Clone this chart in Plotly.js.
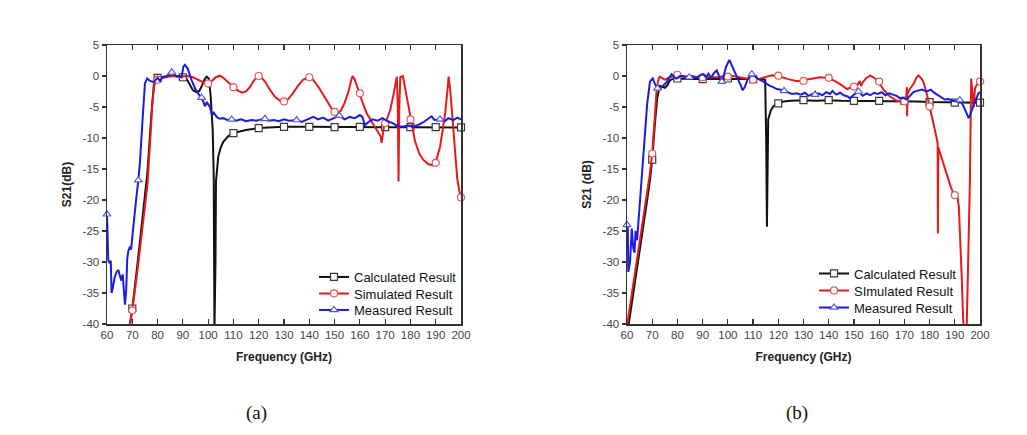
<!DOCTYPE html>
<html><head><meta charset="utf-8">
<script src="https://cdn.plot.ly/plotly-3.0.1.min.js"></script>
<style>html,body{margin:0;padding:0;background:#fff}#chart{width:1027px;height:435px}</style>
</head><body><div id="chart"></div>
<script>
// ---------- axis ticks ----------
const xTickVals = [60,70,80,90,100,110,120,130,140,150,160,170,180,190,200];
const xTickText = ['60','70','80','90','100','110','120','130','140','150','160','170','180','190','200'];
const yTickVals = [-40,-35,-30,-25,-20,-15,-10,-5,0,5];
const yTickText = ['-40','-35','-30','-25','-20','-15','-10','-5','0','5'];

// ---------- (a) Calculated ----------
const aCalcFreq = [69.0,70,72,74,76,77.5,78.5,80,82,84,86,88,90,91.5,92.8,94,95.4,96.5,97.5,98.5,99.4,100.3,101,101.8,102.2,102.5,102.9,103.1,104,105,106,108,110,112.5,115,120,125,130,140,150,160,170,180,190,200];
const aCalcS21  = [-40.5,-37.5,-30.5,-23.5,-15.5,-6.5,-1.5,-0.3,-0.1,0,0.1,0,-0.2,-0.5,-1.5,-2.3,-2.6,-2.4,-1.6,-0.6,-0.1,-0.4,-3.3,-8.6,-16,-41,-30,-17,-13,-11.5,-10.6,-9.7,-9.2,-8.9,-8.7,-8.4,-8.3,-8.2,-8.2,-8.25,-8.2,-8.25,-8.25,-8.25,-8.3];
const aCalcMarkFreq = [70,80,90,110,120,130,140,150,160,170,180,190,200];
const aCalcMarkS21  = [-37.5,-0.3,-0.2,-9.2,-8.4,-8.2,-8.2,-8.25,-8.2,-8.25,-8.25,-8.25,-8.3];

// ---------- (a) Simulated ----------
const aSimFreq = [68.8,70,72,74,76,77,78,78.8,80,82,84,86,88,90,92,94,96.8,98.5,100,101.5,103,104.7,106,108,110,112,113.5,115,116.5,118,119.7,121,122.5,124.4,126.5,128.5,130,131.5,133.5,135.5,137.5,139.8,141.5,143.5,145.5,147.5,149.5,151,152.5,154,155.5,156.5,157.1,158,159.6,161,162.7,164.7,166.5,167.5,168.3,168.6,168.9,169.5,170.5,172,173.3,174.6,175,175.3,175.6,176,177,178.5,180,181.8,183.5,185,187,189,190.5,191.7,192.8,193.8,194.6,195.1,195.8,196.5,197.6,198.5,199.3,200];
const aSimS21  = [-40.5,-37.8,-31.5,-24.5,-17.5,-11,-4,-1.2,-0.6,-0.3,-0.2,0,-0.1,-0.1,0,-0.2,-0.8,-1.1,-1.2,-0.8,-0.2,0.05,-0.3,-1.1,-1.8,-2.4,-2.7,-2.5,-1.8,-0.8,0,-0.2,-0.9,-2.2,-3.4,-4,-4.1,-3.8,-2.8,-1.6,-0.6,-0.2,-0.6,-1.7,-3,-4.5,-5.7,-6,-5.6,-4.3,-2.5,-0.8,0,-0.6,-2.6,-4.2,-6.0,-7.3,-8.6,-9.2,-9.8,-10.8,-9.6,-8.2,-7.2,-5.5,-3,-0.1,-5,-17,-5,-0.2,0,-3.3,-7.0,-10.5,-12.5,-13.5,-14.2,-14.4,-13.2,-11.4,-8.6,-5.8,-2.5,-0.1,-2.5,-6.5,-12.5,-16.5,-18.5,-19.6];
const aSimMarkFreq = [70,80,100,110,120,130,140,150,160,170,180,190,200];
const aSimMarkS21  = [-37.8,-0.6,-1.2,-1.8,0,-4.1,-0.2,-5.8,-2.8,-7.6,-7.0,-14.0,-19.6];

// ---------- (a) Measured ----------
const aMeasFreq = [60,60.5,61,61.5,61.8,62.3,63,63.8,64.5,65,65.6,66.2,66.7,67.1,67.6,68,68.4,69.1,69.5,70.4,71.5,72.4,73,74,75,75.9,77,78.5,80,81,82,83.6,84.5,85.6,86.5,87.5,88.5,89.5,90.2,90.8,91.9,92.6,93.5,94.8,95.5,96.8,98.1,98.7,99.5,100.3,100.7,101.4,102.2,103.4,104.5,106,107.5,109.3,111,113,115,117,119,121,122.5,124,126,128,130,132,135,137,139,141.6,143.5,145.5,147.5,149.5,151.9,154,156,158,160,161,162,163.5,165,167,169,171,173,175,177,179,181,183,185,187,188.4,189.5,191.7,193.5,195,197,198.5,200];
const aMeasS21  = [-22.3,-29.7,-30.2,-29.8,-35,-34.2,-32.5,-31.6,-31.3,-32.2,-33,-32,-34.5,-36.9,-34.5,-29.5,-28.3,-27.5,-28,-23.8,-20,-16.8,-14.1,-7.5,-1.2,-0.4,-0.8,-1,-0.3,-0.8,-0.2,-0.1,0.4,0.7,0.3,-0.1,0,-0.2,1.5,1.8,1.2,0.2,-0.7,-2,-2.4,-3.3,-4.1,-4.9,-4.2,-4.7,-5,-6.1,-5.9,-6.6,-6.9,-6.8,-7.1,-7.0,-7.2,-7.0,-7.3,-7.1,-7.2,-7.0,-6.9,-7.2,-7.1,-7.3,-7.0,-7.2,-7.1,-7.4,-7.0,-6.6,-7.0,-6.7,-7.2,-6.8,-6.4,-7.0,-6.6,-6.8,-6.3,-6.6,-7.9,-7.4,-7.0,-7.2,-6.8,-7.3,-7.6,-8.1,-8.2,-8.0,-8.2,-7.9,-7.5,-6.9,-6.5,-7.1,-7.0,-7.3,-6.8,-7.1,-6.7,-7.0];
const aMeasMarkFreq = [60,72.4,85.6,97.4,109.3,122.5,135,151.9,191.7];
const aMeasMarkS21  = [-22.3,-16.8,0.6,-3.5,-7.0,-6.9,-7.1,-6.4,-7.0];

// ---------- (b) Calculated ----------
const bCalcFreq = [60.5,62,64,66,68,69.1,70,71,72,73,74,75,76,77,78,80,85,90,95,100,105,110,114,114.8,115.2,115.5,115.7,116,117,118,119.6,122,125,130,135,140,145,150,155,160,165,170,175,180,185,190,195,200];
const bCalcS21  = [-40.5,-36.5,-31.3,-26,-20,-16.8,-13.5,-8,-3.5,-1.6,-1.7,-1.9,-1.5,-0.7,-0.5,-0.4,-0.5,-0.5,-0.5,-0.4,-0.5,-0.5,-0.5,-0.6,-10,-24.3,-15,-7,-5.6,-4.9,-4.4,-4.1,-4.0,-3.9,-4.0,-3.9,-4.0,-4.0,-4.1,-4.0,-4.1,-4.0,-4.1,-4.2,-4.2,-4.3,-4.3,-4.3];
const bCalcMarkFreq = [70,80,90,100,110,120,130,140,150,160,170,180,190,200];
const bCalcMarkS21  = [-13.5,-0.4,-0.5,-0.4,-0.5,-4.4,-3.9,-3.9,-4.0,-4.0,-4.0,-4.2,-4.3,-4.3];

// ---------- (b) Simulated ----------
const bSimFreq = [60,62,64,66,68,69,70,71,71.8,72.5,73,75,77,79.7,82,85,88,90,93,96,98.3,100,102.2,105,108,110,112,115.4,117.5,119.4,121,124,127,129.3,131,133.5,136.5,139.5,142,144.5,147.3,149.8,151.5,152.3,152.8,153.5,155,156.5,158,159.7,161.7,164.3,166.5,168.3,170,170.8,171,171.1,171.2,172,173.6,174.8,175.6,176.8,177.6,178.9,179.9,181,182,182.9,183.2,183.3,183.45,185,187,188.5,189.8,190.9,191.6,192.3,192.8,193.3,193.6,194.7,195.3,196,196.5,197,197.5,198,199.4,200];
const bSimS21  = [-40.3,-35,-29.5,-24,-18.8,-16,-12.5,-6.5,-2,-0.5,-0.1,-0.6,-0.2,0.2,-0.1,0,-0.2,-0.2,-0.2,-0.2,0,-0.1,0,-0.2,-0.4,-0.6,-0.5,-0.1,0.1,0.05,-0.1,-0.5,-0.8,-0.8,-0.6,-0.4,-0.2,-0.3,-0.7,-1.3,-2.1,-1.7,-1.4,-0.8,-1.6,-1.0,-0.3,0.05,-0.3,-0.9,-2.2,-3.3,-3.9,-4.1,-4.1,-3.2,-1.8,-6.5,-3.0,-2.2,-1.3,-0.3,0.1,-0.4,-1.0,-2.9,-4.9,-6.8,-8.5,-10.2,-10.8,-25.4,-11.5,-13.5,-16,-18,-19.2,-19.2,-21,-27,-33,-39,-41,-41,-30,-16.8,-0.4,-3,-5,-2,-0.9,-0.9];
const bSimMarkFreq = [70,80,90,100,110,120,130,140,150,160,170,180,190,200];
const bSimMarkS21  = [-12.5,0.2,-0.2,-0.1,-0.6,0.05,-0.8,-0.3,-1.7,-0.9,-4.1,-4.9,-19.2,-0.9];

// ---------- (b) Measured ----------
const bMeasFreq = [60,60.3,60.5,61.2,61.9,62.5,63,63.4,64,64.5,65.1,65.8,66.5,67.1,68,69.1,70.2,71.1,72.1,73.5,74.5,75.7,76.7,77.7,78.7,79.7,81,82.4,83.5,84.7,86,87.5,89,90.3,91.3,92.3,93.3,94.5,95.6,96.5,97.6,98.5,99.3,100.6,101.5,102.2,103,104.2,105.2,105.9,106.7,107.5,108.5,109.5,111,112.2,114.1,115.4,116.7,118,119.4,121,122.3,124,125.5,127.3,129,130.5,132,133.5,134.6,136,137.5,139,140.5,141.5,143,144.5,146,147.5,148.5,150,151.8,153.5,155,156.5,158,159.5,161,162.5,164,165.5,167,168.3,169.5,170.9,172.3,173.6,175,176.9,178.9,180.5,181.5,183,184.5,186,187.5,189,190.8,192,193.4,194.7,195.4,195.8,196.8,198.1,199.4,200];
const bMeasS21  = [-24,-23.8,-31.6,-30,-24.6,-27.8,-28.5,-25,-26.5,-23.8,-19.5,-16.8,-12,-8.7,-4.5,-0.9,-0.4,-1.3,-2,-1.9,-1.5,-1,-0.3,0.3,-0.2,-0.4,0,0,-0.3,-0.2,0,-0.3,0.1,0.3,-0.2,0.4,-0.3,0.5,0.9,0,-0.9,0.3,1.5,2.6,1.8,1.0,0.3,-0.5,-1.6,-2.3,-1.8,-0.9,-0.1,0.3,-0.2,-0.5,-0.9,-1.3,-1.6,-1.8,-2.1,-2.2,-2.4,-2.6,-2.9,-2.8,-3.0,-2.7,-3.2,-2.9,-3.0,-2.8,-3.1,-2.6,-2.9,-2.4,-3.0,-2.7,-3.1,-3.3,-3.6,-3.0,-2.5,-3.2,-2.8,-3.1,-2.7,-2.9,-2.6,-3.1,-2.8,-3.0,-3.2,-3.6,-3.5,-3.8,-3.2,-2.6,-2.4,-2.2,-2.5,-2.2,-2.6,-3.0,-3.4,-3.8,-3.7,-4.0,-4.1,-3.9,-4.8,-5.9,-6.7,-6.6,-5.4,-4.0,-2.8,-2.6];
const bMeasMarkFreq = [60,72.1,84.7,97.6,109.5,122.3,134.6,151.8,192];
const bMeasMarkS21  = [-24,-2.0,-0.2,-0.9,0.3,-2.4,-3.0,-2.5,-3.9];

// ---------- legend labels ----------
const aLegendNames = ['Calculated Result','Simulated Result','Measured Result'];
const bLegendNames = ['Calculated Result','SImulated Result','Measured Result'];

// ---------- styling ----------
const W = 1027, H = 435;
const FONT = 'Liberation Sans, Arial, sans-serif';
const C_BLACK = '#111111', C_RED = '#e61a1a', C_BLUE = '#1c1ce0';
const E_BLACK = '#3a3a3a', E_RED = '#e05a5a', E_BLUE = '#5a5ad8';

function lineTr(f, s, color, xa, ya) {
  return {type:'scatter', mode:'lines', x:f, y:s, xaxis:xa, yaxis:ya,
    line:{color:color, width:2}, showlegend:false, hoverinfo:'skip'};
}
function markTr(f, s, sym, edge, xa, ya) {
  return {type:'scatter', mode:'markers', x:f, y:s, xaxis:xa, yaxis:ya, cliponaxis:false,
    marker:{symbol:sym, size:7, color:'#ffffff', line:{color:edge, width:1.2}},
    showlegend:false, hoverinfo:'skip'};
}
function legTr(name, color, sym, edge, xa, ya, leg) {
  return {type:'scatter', mode:'lines+markers', x:[null], y:[null], xaxis:xa, yaxis:ya,
    name:name, legend:leg, line:{color:color, width:2},
    marker:{symbol:sym, size:7, color:'#ffffff', line:{color:edge, width:1.2}}};
}

const data = [
  lineTr(aCalcFreq, aCalcS21, C_BLACK, 'x', 'y'),
  markTr(aCalcMarkFreq, aCalcMarkS21, 'square', E_BLACK, 'x', 'y'),
  lineTr(aSimFreq, aSimS21, C_RED, 'x', 'y'),
  markTr(aSimMarkFreq, aSimMarkS21, 'circle', E_RED, 'x', 'y'),
  lineTr(aMeasFreq, aMeasS21, C_BLUE, 'x', 'y'),
  markTr(aMeasMarkFreq, aMeasMarkS21, 'triangle-up', E_BLUE, 'x', 'y'),
  lineTr(bCalcFreq, bCalcS21, C_BLACK, 'x2', 'y2'),
  markTr(bCalcMarkFreq, bCalcMarkS21, 'square', E_BLACK, 'x2', 'y2'),
  lineTr(bSimFreq, bSimS21, C_RED, 'x2', 'y2'),
  markTr(bSimMarkFreq, bSimMarkS21, 'circle', E_RED, 'x2', 'y2'),
  lineTr(bMeasFreq, bMeasS21, C_BLUE, 'x2', 'y2'),
  markTr(bMeasMarkFreq, bMeasMarkS21, 'triangle-up', E_BLUE, 'x2', 'y2'),
  legTr(aLegendNames[0], C_BLACK, 'square', E_BLACK, 'x', 'y', 'legend'),
  legTr(aLegendNames[1], C_RED, 'circle', E_RED, 'x', 'y', 'legend3'),
  legTr(aLegendNames[2], C_BLUE, 'triangle-up', E_BLUE, 'x', 'y', 'legend4'),
  legTr(bLegendNames[0], C_BLACK, 'square', E_BLACK, 'x2', 'y2', 'legend2'),
  legTr(bLegendNames[1], C_RED, 'circle', E_RED, 'x2', 'y2', 'legend5'),
  legTr(bLegendNames[2], C_BLUE, 'triangle-up', E_BLUE, 'x2', 'y2', 'legend6')
];

const yDom = [1 - 324/H, 1 - 45/H];
function xAx(dom, anchor) {
  return {domain:dom, anchor:anchor, range:[60,200], tickvals:xTickVals, ticktext:xTickText,
    ticks:'inside', ticklen:5, tickwidth:1.2, tickcolor:'#333', showline:true, linecolor:'#333',
    linewidth:1.5, mirror:'ticks', showgrid:false, zeroline:false, automargin:false,
    tickfont:{family:FONT, size:11.5, color:'#444'},
    title:{text:'Frequency (GHz)', standoff:12, font:{family:FONT, size:12, color:'#222', weight:'bold'}}};
}
function yAx(anchor, title) {
  return {domain:yDom, anchor:anchor, range:[-40,5], tickvals:yTickVals, ticktext:yTickText,
    ticks:'outside', ticklen:4, tickwidth:1.2, tickcolor:'#333', showline:true, linecolor:'#333',
    linewidth:1.5, mirror:true, showgrid:false, zeroline:false, automargin:false,
    tickfont:{family:FONT, size:11.5, color:'#444'},
    title:{text:title, standoff:8, font:{family:FONT, size:12, color:'#222', weight:'bold'}}};
}
function yRight(over, anchor) {
  return {overlaying:over, anchor:anchor, side:'right', range:[-40,5], tickvals:yTickVals,
    ticks:'inside', ticklen:5, tickwidth:1.2, tickcolor:'#333', showticklabels:false,
    showline:false, showgrid:false, zeroline:false};
}
function legend(xPx, rowCenterPx) {
  return {x:xPx/W, y:1 - (rowCenterPx - 15)/H, xanchor:'left', yanchor:'top', bgcolor:'rgba(0,0,0,0)',
    borderwidth:0, itemwidth:30, tracegroupgap:0,
    font:{family:FONT, size:13, color:'#111'}};
}

const layout = {
  width:W, height:H, margin:{l:0, r:0, t:0, b:0},
  paper_bgcolor:'#ffffff', plot_bgcolor:'#ffffff', showlegend:true,
  xaxis: xAx([107/W, 461/W], 'y'),
  yaxis: yAx('x', 'S21(dB)'),
  yaxis3: yRight('y', 'x'),
  xaxis2: xAx([627/W, 980/W], 'y2'),
  yaxis2: yAx('x2', 'S21 (dB)'),
  yaxis4: yRight('y2', 'x2'),
  legend:  legend(314, 277),
  legend3: legend(314, 293.5),
  legend4: legend(314, 310),
  legend2: legend(814, 273.5),
  legend5: legend(814, 290.5),
  legend6: legend(814, 307.5),
  annotations:[
    {xref:'paper', yref:'paper', x:256/W, y:1 - 413/H, xanchor:'center', yanchor:'middle',
     text:'(a)', showarrow:false, font:{family:'Liberation Serif, DejaVu Serif, serif', size:19, color:'#111'}},
    {xref:'paper', yref:'paper', x:797/W, y:1 - 413/H, xanchor:'center', yanchor:'middle',
     text:'(b)', showarrow:false, font:{family:'Liberation Serif, DejaVu Serif, serif', size:19, color:'#111'}}
  ]
};

Plotly.newPlot('chart', data, layout, {staticPlot:true, displayModeBar:false});
</script></body></html>
